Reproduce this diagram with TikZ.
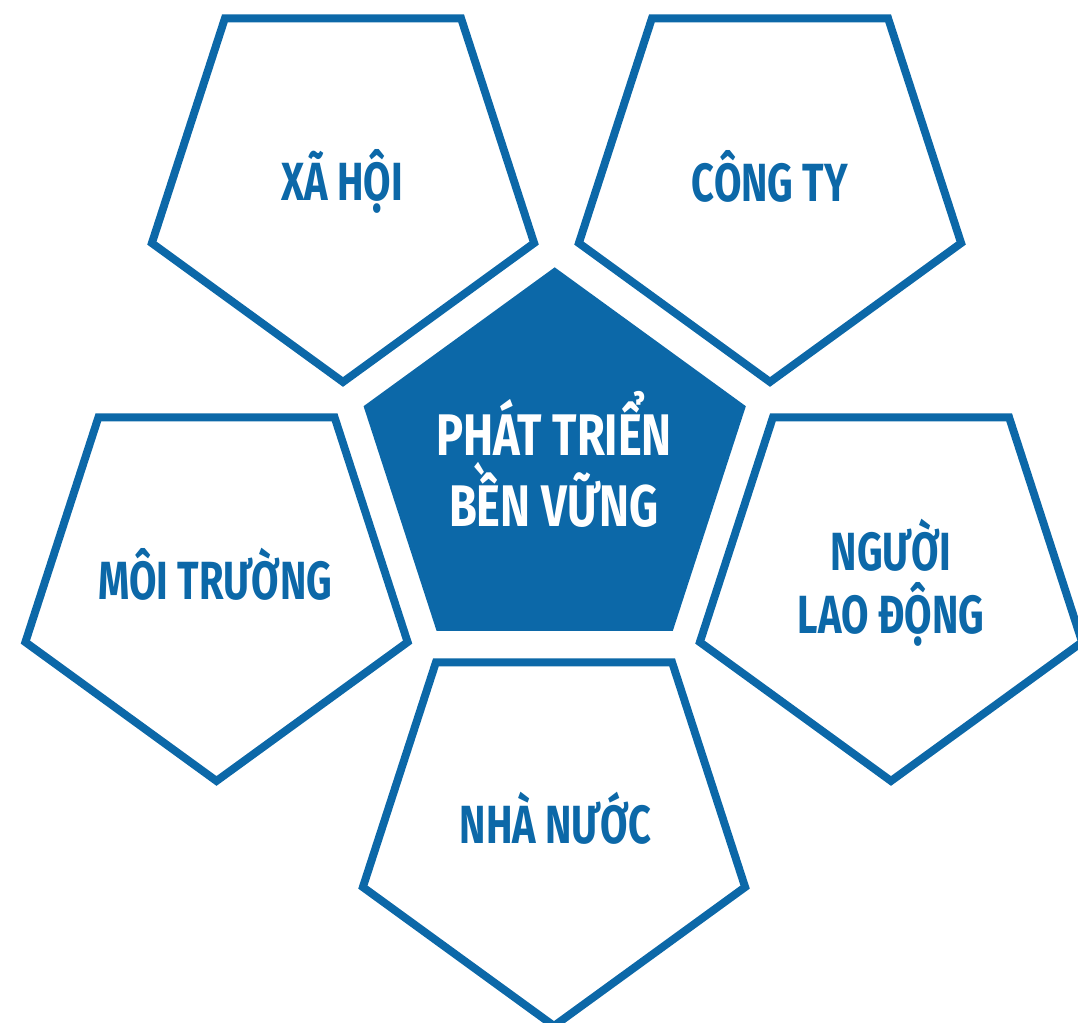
\documentclass[tikz,border=0pt]{standalone}
\usepackage{fontspec}
\usetikzlibrary{shapes.geometric}
\newfontfamily\pentafont{Fira Sans}[FakeStretch = 0.74]
\newfontfamily\corefont{Fira Sans}[FakeStretch = 0.77]
\definecolor{pentablue}{RGB}{12,104,168}

\begin{document}
\begin{tikzpicture}[x = 0.02 cm, y = -0.02 cm,
	pentagon/.style = {regular polygon, regular polygon sides = 5, minimum size = 8.04 cm, inner sep = 0 pt, outer sep = 0 pt},
	ringpenta/.style = {pentagon, regular polygon rotate = 180, draw = pentablue, line width = 4.5 pt},
	corepenta/.style = {pentagon, fill = pentablue},
	ringtext/.style = {font = \pentafont\bfseries\fontsize{30.6}{35.9}\selectfont, text = pentablue, align = center, inner sep = 0 pt, text depth = 0 pt, text height = 0.74 cm},
	ringtexttwo/.style = {ringtext, text height = 2.0 cm},
	coretext/.style = {font = \corefont\bfseries\fontsize{33.4}{40.4}\selectfont, text = white, align = center, inner sep = 0 pt, text depth = 0 pt, text height = 2.21 cm}]
	 \useasboundingbox (0, 0) rectangle (1078, 1023);
	 
	 \node[corepenta] (core) at (554.7, 468.3) {};
	 \node[ringpenta] (xahoi) at (343, 181) {};
	 \node[ringpenta] (congty) at (770, 181) {};
	 \node[ringpenta] (moitruong) at (216.5, 580) {};
	 \node[ringpenta] (nguoild) at (891, 580) {};
	 \node[ringpenta] (nhanuoc) at (554, 825) {};
	 
	 \node[coretext] (core text) at (554, 471) {PHÁT TRIỂN\\BỀN VỮNG};
	 \node[ringtext] (xahoi text) at (342.2, 182.5) {XÃ HỘI};
	 \node[ringtext] (congty text) at (770, 182.7) {CÔNG TY};
	 \node[ringtext] (moitruong text) at (215.3, 581) {MÔI TRƯỜNG};
	 \node[ringtexttwo] (nguoild text) at (891, 583.5) {NGƯỜI\\LAO ĐỘNG};
	 \node[ringtext] (nhanuoc text) at (555.5, 825) {NHÀ NƯỚC};
\end{tikzpicture}
\end{document}
